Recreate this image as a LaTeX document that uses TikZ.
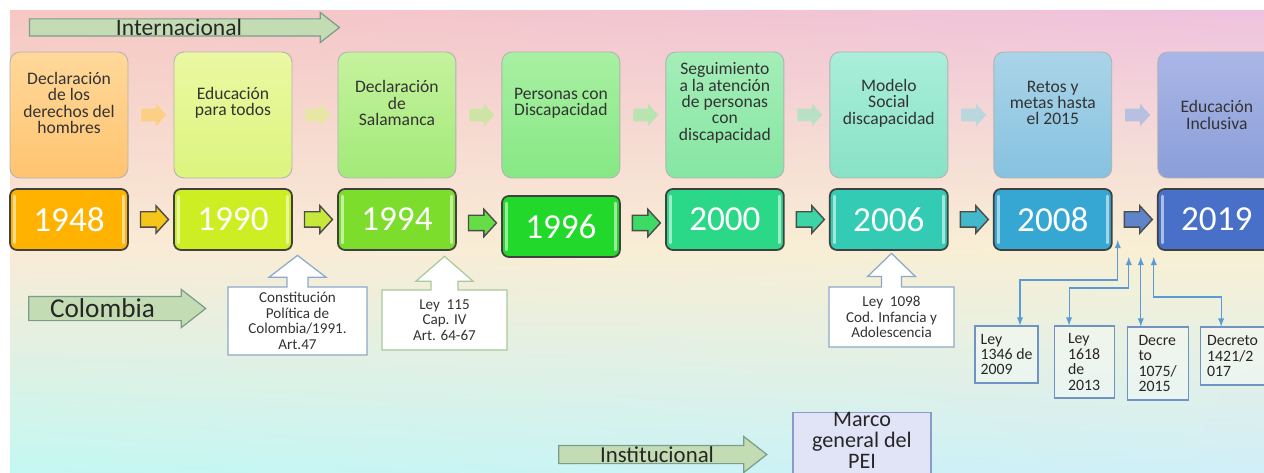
\documentclass[tikz,border=0pt]{standalone}
\usepackage{fontspec}
\setmainfont{Carlito}
\usepackage{tikz}
\usetikzlibrary{positioning}
\usetikzlibrary{calc}
\usetikzlibrary{shapes.arrows}
\usetikzlibrary{shadings}
\usetikzlibrary{arrows}

% background corners
\definecolor{bgTL}{HTML}{F6C8C3}
\definecolor{bgTR}{HTML}{EFC2DE}
\definecolor{bgML}{HTML}{F9EBD6}
\definecolor{bgMR}{HTML}{F8F0D4}
\definecolor{bgBL}{HTML}{C4F8F2}
\definecolor{bgBR}{HTML}{D0EFF8}
\definecolor{arrfill}{HTML}{C4DCB4}
\definecolor{arrline}{HTML}{7C9C8C}
\definecolor{calblue}{HTML}{8EA8CA}
\definecolor{calgreen}{HTML}{A9C99A}
\definecolor{linkblue}{HTML}{5B9BD5}
\definecolor{lawline}{HTML}{7094C2}
\definecolor{marcofill}{HTML}{E1E3F6}
\definecolor{marcoline}{HTML}{8A9CC6}
% topic boxes, top and bottom colour
\definecolor{tA}{HTML}{FFD89A}\definecolor{tAb}{HTML}{FFC470}
\definecolor{tB}{HTML}{EAF8A2}\definecolor{tBb}{HTML}{DDF47E}
\definecolor{tC}{HTML}{C6F29E}\definecolor{tCb}{HTML}{A2EA78}
\definecolor{tD}{HTML}{A8F0A2}\definecolor{tDb}{HTML}{86E884}
\definecolor{tE}{HTML}{A4EEB8}\definecolor{tEb}{HTML}{86E6A2}
\definecolor{tF}{HTML}{AAEEDA}\definecolor{tFb}{HTML}{88E2C6}
\definecolor{tG}{HTML}{AAD4E8}\definecolor{tGb}{HTML}{86C2E0}
\definecolor{tH}{HTML}{AAB6E6}\definecolor{tHb}{HTML}{8A9ED8}
% faded arrows
\definecolor{fA}{HTML}{FFCC55}
\definecolor{fB}{HTML}{DDF088}
\definecolor{fC}{HTML}{B2EE88}
\definecolor{fD}{HTML}{92EC98}
\definecolor{fE}{HTML}{92E8BC}
\definecolor{fF}{HTML}{92D8E0}
\definecolor{fG}{HTML}{92B2E4}
% years
\definecolor{yA}{HTML}{FFB300}
\definecolor{yB}{HTML}{CCEE22}
\definecolor{yC}{HTML}{7CDD2C}
\definecolor{yD}{HTML}{22D82A}
\definecolor{yE}{HTML}{2AD887}
\definecolor{yF}{HTML}{33CBB3}
\definecolor{yG}{HTML}{36A6D2}
\definecolor{yH}{HTML}{4870C8}
% year arrows
\definecolor{aA}{HTML}{F6C51A}
\definecolor{aB}{HTML}{C6E83A}
\definecolor{aC}{HTML}{66DD44}
\definecolor{aD}{HTML}{3EDA66}
\definecolor{aE}{HTML}{3CD6A6}
\definecolor{aF}{HTML}{42B8CA}
\definecolor{aG}{HTML}{5F84CA}

\tikzstyle{timeline_style}=[
	x=0.02cm, y=-0.02cm,
	topbox/.style={rectangle,rounded corners=0.2cm,draw=black!30,line width=0.5pt,minimum width=2.36cm,minimum height=2.52cm,outer sep=0pt},
	toptext/.style={align=center,text=black!80,font=\fontsize{10}{9.3}\selectfont},
	yearbox/.style={rectangle,rounded corners=0.14cm,draw=black!75,line width=1pt,minimum width=2.36cm,minimum height=1.22cm,outer sep=0pt,text=white,font=\fontsize{20}{20}\selectfont,
		path picture={\draw[white,opacity=.55,line width=1.4pt,line cap=round]
			([xshift=0.09cm,yshift=-0.14cm]path picture bounding box.north west) -- ([xshift=0.09cm,yshift=0.14cm]path picture bounding box.south west)
			([xshift=-0.09cm,yshift=-0.14cm]path picture bounding box.north east) -- ([xshift=-0.09cm,yshift=0.14cm]path picture bounding box.south east);}},
	yarrow/.style={single arrow,draw=black!70,line width=0.8pt,inner xsep=0pt,inner ysep=0.14cm,minimum height=0.56cm,single arrow head extend=0.12cm,single arrow tip angle=95},
	farrow/.style={single arrow,draw=none,opacity=.6,inner xsep=0pt,inner ysep=0.12cm,minimum height=0.5cm,single arrow head extend=0.1cm,single arrow tip angle=95},
	labarr/.style={single arrow,draw=arrline,fill=arrfill,line width=0.7pt,inner xsep=0pt,single arrow tip angle=76},
	labtext/.style={text=black!85,inner sep=0pt},
	callout/.style={arrow box,fill=white,line width=0.7pt,align=center,text=black!80,inner sep=0pt,font=\fontsize{8.6}{8.8}\selectfont,
		arrow box east arrow=0cm,arrow box west arrow=0cm,arrow box south arrow=0cm},
	lawbox/.style={rectangle,draw=lawline,line width=0.6pt,fill=white,fill opacity=.35,text opacity=1,align=left,text=black!85,inner sep=0pt,font=\fontsize{9}{8.8}\selectfont},
	link/.style={latex-latex,draw=linkblue,line width=0.6pt},
	marco/.style={rectangle,draw=marcoline,fill=marcofill,line width=0.6pt,align=center,text=black!85,minimum width=2.76cm,inner sep=0pt,font=\fontsize{12.6}{12}\selectfont}
]

\begin{document}
\begin{tikzpicture}[timeline_style]

	\useasboundingbox (0,0) rectangle (1264,473);
	\shade[upper left=bgTL, upper right=bgTR, lower left=bgML, lower right=bgMR] (10,11) rectangle (1264,250);
	\shade[upper left=bgML, upper right=bgMR, lower left=bgBL, lower right=bgBR] (10,250) rectangle (1264,473);

	%international
	\node[labarr,minimum height=6.2cm,inner ysep=0.16cm,single arrow head extend=0.13cm,
		label={[labtext,font=\fontsize{13.4}{13.4}\selectfont]center:Internacional}] (intl) at (179,27.5) {};

	%topics
	\node[topbox,top color=tA,bottom color=tAb] (t1) at (69,115) {};
	\node[topbox,top color=tB,bottom color=tBb] (t2) [right=0.92cm of t1] {};
	\node[topbox,top color=tC,bottom color=tCb] (t3) [right=0.92cm of t2] {};
	\node[topbox,top color=tD,bottom color=tDb] (t4) [right=0.92cm of t3] {};
	\node[topbox,top color=tE,bottom color=tEb] (t5) [right=0.92cm of t4] {};
	\node[topbox,top color=tF,bottom color=tFb] (t6) [right=0.92cm of t5] {};
	\node[topbox,top color=tG,bottom color=tGb] (t7) [right=0.92cm of t6] {};
	\node[topbox,top color=tH,bottom color=tHb] (t8) [right=0.92cm of t7] {};

	\node[toptext] (tx1) at ([yshift=0.24cm]t1.center) {Declaración\\de los\\derechos del\\hombres};
	\node[toptext] (tx2) at ([yshift=0.24cm]t2.center) {Educación\\para todos};
	\node[toptext] (tx3) at ([yshift=0.24cm]t3.center) {Declaración\\de\\Salamanca};
	\node[toptext] (tx4) at ([yshift=0.24cm]t4.center) {Personas con\\Discapacidad};
	\node[toptext] (tx5) at ([yshift=0.24cm]t5.center) {Seguimiento\\a la atención\\de personas\\con\\discapacidad};
	\node[toptext] (tx6) at ([yshift=0.24cm]t6.center) {Modelo\\Social\\discapacidad};
	\node[toptext] (tx7) at ([yshift=0.24cm]t7.center) {Retos y\\metas hasta\\el 2015};
	\node[toptext] (tx8) at (t8.center) {Educación\\Inclusiva};

	\node[farrow,fill=fA] (f1) at ($(t1.east)!0.5!(t2.west)$) {};
	\node[farrow,fill=fB] (f2) at ($(t2.east)!0.5!(t3.west)$) {};
	\node[farrow,fill=fC] (f3) at ($(t3.east)!0.5!(t4.west)$) {};
	\node[farrow,fill=fD] (f4) at ($(t4.east)!0.5!(t5.west)$) {};
	\node[farrow,fill=fE] (f5) at ($(t5.east)!0.5!(t6.west)$) {};
	\node[farrow,fill=fF] (f6) at ($(t6.east)!0.5!(t7.west)$) {};
	\node[farrow,fill=fG] (f7) at ($(t7.east)!0.5!(t8.west)$) {};

	%years
	\node[yearbox,fill=yA] (y1) [below=0.22cm of t1] {1948};
	\node[yearbox,fill=yB] (y2) [below=0.22cm of t2] {1990};
	\node[yearbox,fill=yC] (y3) [below=0.22cm of t3] {1994};
	\node[yearbox,fill=yD] (y4) [below=0.36cm of t4] {1996};
	\node[yearbox,fill=yE] (y5) [below=0.22cm of t5] {2000};
	\node[yearbox,fill=yF] (y6) [below=0.22cm of t6] {2006};
	\node[yearbox,fill=yG] (y7) [below=0.22cm of t7] {2008};
	\node[yearbox,fill=yH] (y8) [below=0.22cm of t8] {2019};

	\node[yarrow,fill=aA] (a1) at ($(y1.east)!0.5!(y2.west)$) {};
	\node[yarrow,fill=aB] (a2) at ($(y2.east)!0.5!(y3.west)$) {};
	\node[yarrow,fill=aC] (a3) at ($(y3.east)!0.5!(y4.west)$) {};
	\node[yarrow,fill=aD] (a4) at ($(y4.east)!0.5!(y5.west)$) {};
	\node[yarrow,fill=aE] (a5) at ($(y5.east)!0.5!(y6.west)$) {};
	\node[yarrow,fill=aF] (a6) at ($(y6.east)!0.5!(y7.west)$) {};
	\node[yarrow,fill=aG] (a7) at ($(y7.east)!0.5!(y8.west)$) {};

	%colombia
	\node[labarr,minimum height=3.54cm,inner ysep=0.23cm,single arrow head extend=0.14cm,
		label={[labtext,xshift=-0.14cm,font=\fontsize{15.5}{15.5}\selectfont]center:Colombia}] (col) at (109.5,308.5) {};

	\node[callout,draw=calblue,minimum width=2.78cm,minimum height=1.36cm,arrow box shaft width=0.42cm,
		arrow box head extend=0.36cm,arrow box north arrow=0.62cm,arrow box tip angle=105] (c1) at (297.5,321)
		{Constitución\\Política de\\Colombia/1991.\\Art.47};
	\node[callout,draw=calgreen,minimum width=2.5cm,minimum height=1.2cm,arrow box shaft width=0.54cm,
		arrow box head extend=0.3cm,arrow box north arrow=0.66cm,arrow box tip angle=98] (c2) at (444.5,320)
		{Ley~~115\\Cap. IV\\Art. 64-67};
	\node[callout,draw=calblue,minimum width=2.5cm,minimum height=1.2cm,arrow box shaft width=0.4cm,
		arrow box head extend=0.28cm,arrow box north arrow=0.66cm,arrow box tip angle=92] (c3) at (891.5,317)
		{Ley~~1098\\Cod. Infancia y\\Adolescencia};

	%laws after 2008
	\node[lawbox,minimum width=1.26cm,minimum height=1.14cm] (b1) at (1006.5,354.5) {Ley\\1346 de\\2009};
	\node[lawbox,minimum width=1.2cm,minimum height=1.44cm,anchor=north west] (b2) at ([xshift=0.3cm]b1.north east) {Ley\\1618\\de\\2013};
	\node[lawbox,minimum width=1.22cm,minimum height=1.46cm,anchor=north west] (b3) at ([xshift=0.24cm,yshift=-0.02cm]b2.north east) {Decre\\to\\1075/\\2015};
	\node[lawbox,minimum width=1.3cm,minimum height=1.16cm,anchor=north west] (b4) at ([xshift=0.22cm]b3.north east) {Decreto\\1421/2\\017};

	\coordinate (r1) at ([xshift=0.12cm,yshift=0.2cm]y7.south east);
	\coordinate (r2) at ([xshift=0.34cm,yshift=-0.14cm]y7.south east);
	\coordinate (r3) at ([xshift=0.58cm,yshift=-0.14cm]y7.south east);
	\coordinate (r4) at ([xshift=0.84cm,yshift=-0.14cm]y7.south east);

	\draw[link] (r1) -- ++(0,40) -| ([xshift=0.27cm]b1.north);
	\draw[link] (r2) -- ++(0,31) -| ([xshift=-0.3cm]b2.north);
	\draw[link] (r3) -- (r3 |- b3.north);
	\draw[link] (r4) -- ++(0,40) -| ([xshift=-0.23cm]b4.north);

	%institutional
	\node[labarr,minimum height=4.16cm,inner ysep=0.17cm,single arrow head extend=0.18cm,
		label={[labtext,font=\fontsize{13}{13}\selectfont]center:Institucional}] (inst) at (657,454.5) {};
	\node[marco,anchor=north] (pei) at (862,412) {Marco\\general del\\PEI\rule[-6pt]{0pt}{6pt}};

\end{tikzpicture}
\end{document}
